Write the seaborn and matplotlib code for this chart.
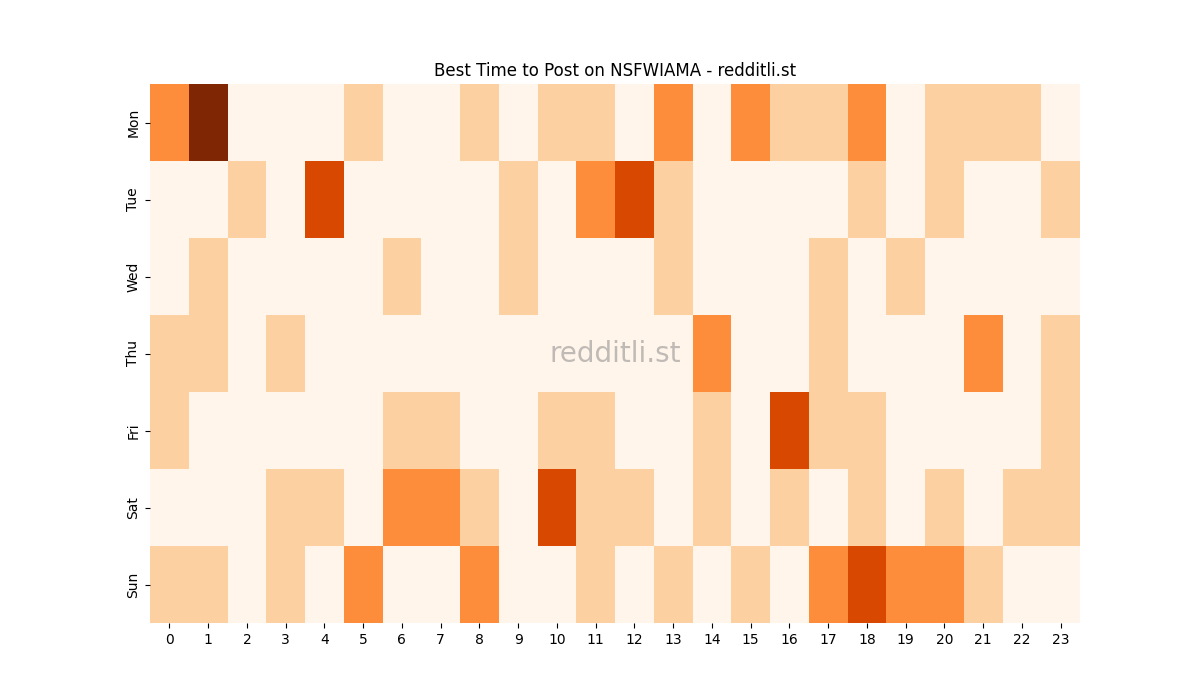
import matplotlib
matplotlib.use("Agg")
import matplotlib.pyplot as plt
import seaborn as sns
import pandas as pd

# Posting activity level per day/hour
days = ["Mon", "Tue", "Wed", "Thu", "Fri", "Sat", "Sun"]
hours = list(range(24))

mon = [2, 4, 0, 0, 0, 1, 0, 0, 1, 0, 1, 1, 0, 2, 0, 2, 1, 1, 2, 0, 1, 1, 1, 0]
tue = [0, 0, 1, 0, 3, 0, 0, 0, 0, 1, 0, 2, 3, 1, 0, 0, 0, 0, 1, 0, 1, 0, 0, 1]
wed = [0, 1, 0, 0, 0, 0, 1, 0, 0, 1, 0, 0, 0, 1, 0, 0, 0, 1, 0, 1, 0, 0, 0, 0]
thu = [1, 1, 0, 1, 0, 0, 0, 0, 0, 0, 0, 0, 0, 0, 2, 0, 0, 1, 0, 0, 0, 2, 0, 1]
fri = [1, 0, 0, 0, 0, 0, 1, 1, 0, 0, 1, 1, 0, 0, 1, 0, 3, 1, 1, 0, 0, 0, 0, 1]
sat = [0, 0, 0, 1, 1, 0, 2, 2, 1, 0, 3, 1, 1, 0, 1, 0, 1, 0, 1, 0, 1, 0, 1, 1]
sun = [1, 1, 0, 1, 0, 2, 0, 0, 2, 0, 0, 1, 0, 1, 0, 1, 0, 2, 3, 2, 2, 1, 0, 0]

df = pd.DataFrame([mon, tue, wed, thu, fri, sat, sun], index=days, columns=hours)

fig, ax = plt.subplots(figsize=(12, 7), dpi=100)
sns.heatmap(df, cmap="Oranges", vmin=0, vmax=4, cbar=False, ax=ax)
ax.set_title("Best Time to Post on NSFWIAMA - redditli.st")
ax.set_xlabel("")
ax.set_ylabel("")

# watermark
ax.text(0.5, 0.5, "redditli.st", transform=ax.transAxes, ha="center", va="center",
        fontsize=20, color="gray", alpha=0.5)

plt.savefig("out.png")
plt.close()
